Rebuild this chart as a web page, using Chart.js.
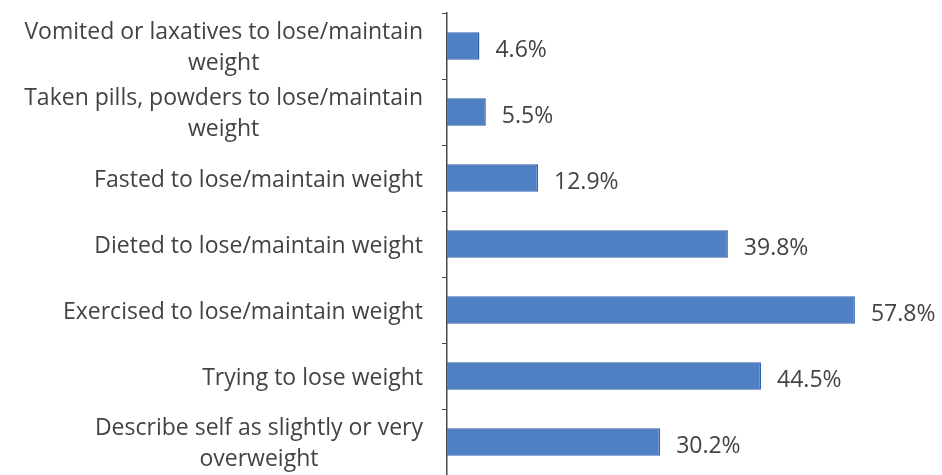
<!DOCTYPE html>
<html>
<head>
<meta charset="utf-8">
<script src="https://cdn.jsdelivr.net/npm/chart.js@4/dist/chart.umd.min.js"></script>
<style>
  html, body { margin: 0; padding: 0; background: #fff; }
  #wrap { width: 942px; height: 475px; }
</style>
</head>
<body>
<div id="wrap"><canvas id="weight-ch-art"></canvas></div>
<script>
// behaviours, top to bottom
const categories = [
    ['Vomited or laxatives to lose/maintain', 'weight'],
    ['Taken pills, powders to lose/maintain', 'weight'],
    ['Fasted to lose/maintain weight'],
    ['Dieted to lose/maintain weight'],
    ['Exercised to lose/maintain weight'],
    ['Trying to lose weight'],
    ['Describe self as slightly or very', 'overweight']
];
const percents = [4.6, 5.5, 12.9, 39.8, 57.8, 44.5, 30.2];

const FONT = '23px "Open Sans", sans-serif';
const INK = '#434343';

// category text (lines centred on each other, block right-aligned) + % labels
const labels = {
    id: 'labels',
    afterDraw(chart) {
        const { ctx, scales: { y } } = chart;
        const axisX = chart.chartArea.left;
        ctx.save();
        ctx.font = FONT;
        ctx.fillStyle = INK;
        ctx.textBaseline = 'middle';
        ctx.textAlign = 'center';
        const lh = 31;
        categories.forEach((lines, i) => {
            const cy = y.getPixelForValue(i) + 2;
            const w = Math.max(...lines.map(l => ctx.measureText(l).width));
            const cx = axisX - 24 - w / 2;
            lines.forEach((l, k) => ctx.fillText(l, cx, cy + (k - (lines.length - 1) / 2) * lh));
        });
        ctx.textAlign = 'left';
        chart.getDatasetMeta(0).data.forEach((bar, i) =>
            ctx.fillText(percents[i].toFixed(1) + '%', bar.x + 16, bar.y + 4));
        ctx.restore();
    }
};

new Chart(document.getElementById('weight-ch-art'), {
    type: 'bar',
    data: {
        labels: categories,
        datasets: [{
            data: percents,
            backgroundColor: '#5080c4',
            borderColor: '#2f62b2',
            borderWidth: 1.5,
            barPercentage: 0.42,
            categoryPercentage: 1
        }]
    },
    options: {
        indexAxis: 'y',
        responsive: true,
        maintainAspectRatio: false,
        animation: false,
        layout: { padding: { left: 442, top: 13, right: 1, bottom: 0 } },
        plugins: { legend: { display: false }, tooltip: { enabled: false } },
        scales: {
            x: { display: false, min: 0, max: 70 },
            y: {
                ticks: { display: false },
                grid: { drawOnChartArea: false, tickLength: 5, color: '#4a4a4a' },
                border: { color: '#4a4a4a', width: 1.5 }
            }
        }
    },
    plugins: [labels]
});
</script>
</body>
</html>
